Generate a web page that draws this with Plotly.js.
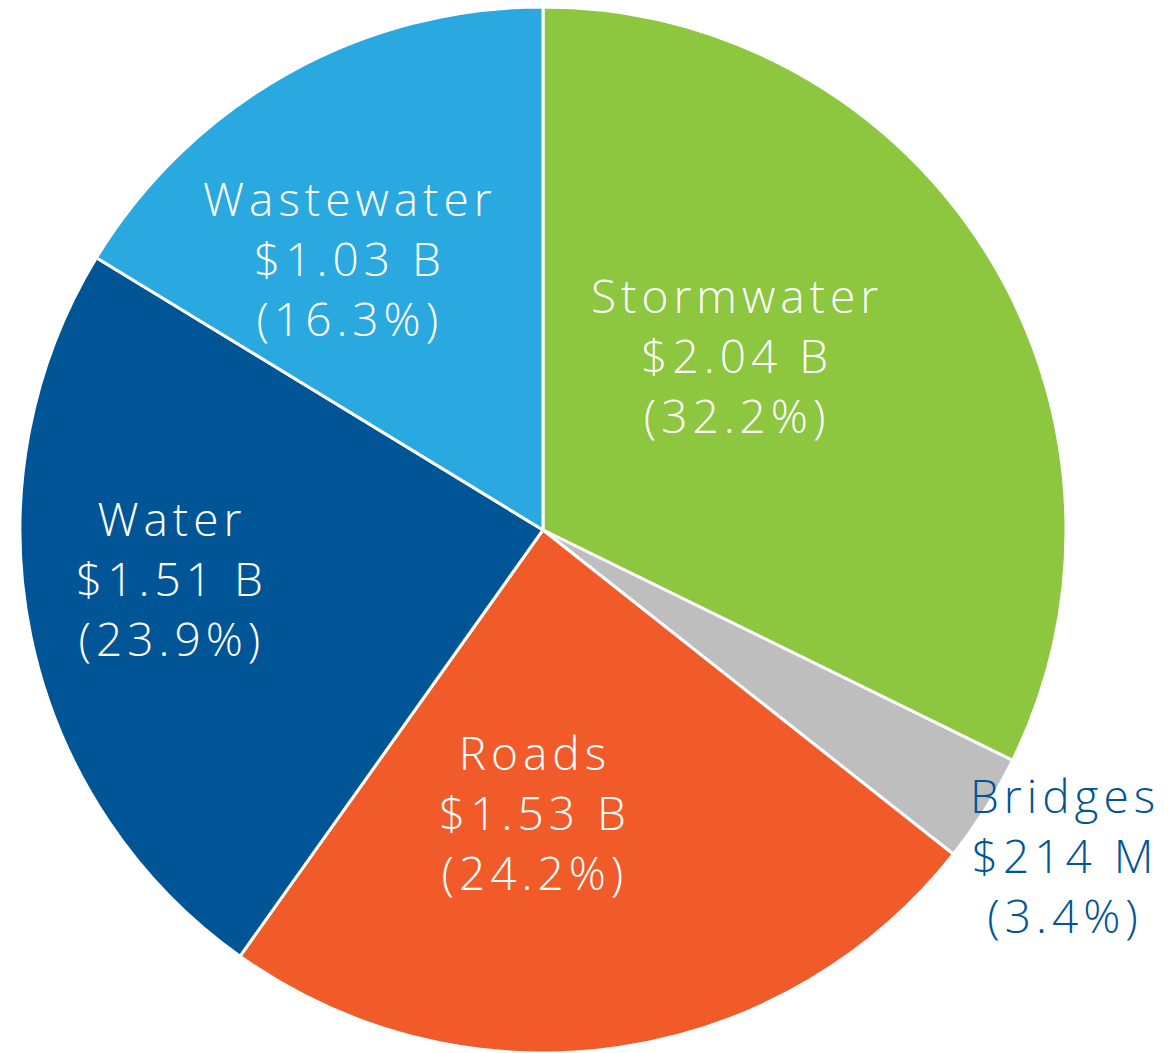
<!DOCTYPE html>
<html>
<head>
<meta charset="utf-8">
<script src="https://cdn.plot.ly/plotly-3.0.1.min.js"></script>
<style>
html,body{margin:0;padding:0;background:#fff;}
#chart{width:1171px;height:1053px;}
.annotation-text{letter-spacing:5px;}
</style>
</head>
<body>
<div id="chart"></div>
<script>
const categories = ["Stormwater", "Bridges", "Roads", "Water", "Wastewater"];
const values = [2.04, 0.214, 1.53, 1.51, 1.03];
const amountLabels = ["$2.04 B", "$214 M", "$1.53 B", "$1.51 B", "$1.03 B"];
const percentLabels = ["(32.2%)", "(3.4%)", "(24.2%)", "(23.9%)", "(16.3%)"];
const colors = ["#8DC63F", "#BEBEBE", "#F15A29", "#005596", "#29A9E0"];

const fullText = categories.map((c, i) => c + "<br>" + amountLabels[i] + "<br>" + percentLabels[i]);

// Label placement (layout only, paper coordinates) and label colours
const labelPos = {
  Stormwater: [0.6294, 0.6633],
  Bridges:    [0.9095, 0.1880],
  Roads:      [0.4569, 0.2289],
  Water:      [0.1469, 0.4515],
  Wastewater: [0.2993, 0.7550]
};
const labelColor = {Bridges: "#005596"};

const trace = {
  type: "pie",
  labels: categories,
  values: values,
  textinfo: "none",
  hoverinfo: "label+value",
  sort: false,
  direction: "clockwise",
  rotation: 0,
  marker: {colors: colors, line: {color: "#ffffff", width: 3}},
  domain: {x: [0.0162, 0.9112], y: [0, 0.9934]},
  showlegend: false
};

const annotations = categories.map((c, i) => ({
  text: fullText[i],
  xref: "paper", yref: "paper",
  x: labelPos[c][0], y: labelPos[c][1],
  xanchor: "center", yanchor: "middle",
  align: "center",
  showarrow: false,
  font: {family: "Open Sans", size: 46, color: labelColor[c] || "#ffffff", weight: 300}
}));

const layout = {
  width: 1171,
  height: 1053,
  margin: {l: 0, r: 0, t: 0, b: 0},
  paper_bgcolor: "#ffffff",
  showlegend: false,
  annotations: annotations
};

Plotly.newPlot("chart", [trace], layout, {displayModeBar: false, staticPlot: true});
</script>
</body>
</html>
